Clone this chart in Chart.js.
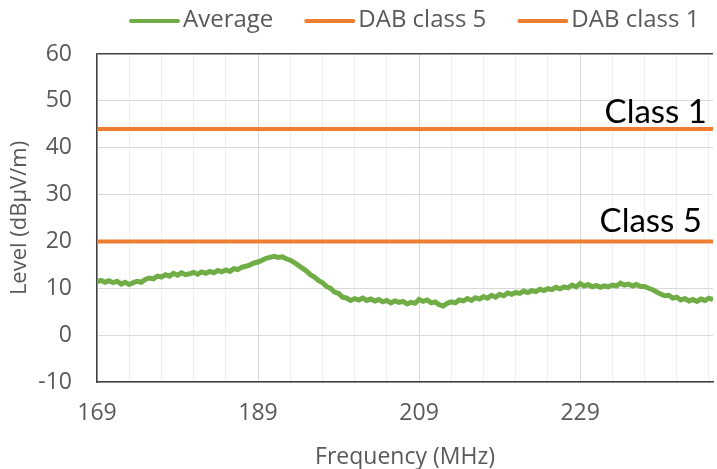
<!DOCTYPE html>
<html>
<head>
<meta charset="utf-8">
<script src="https://cdn.jsdelivr.net/npm/chart.js@4.4.0/dist/chart.umd.min.js"></script>
<style>
  html, body { margin: 0; padding: 0; background: #fff; width: 717px; height: 469px; overflow: hidden; }
  #wrap { position: relative; width: 717px; height: 469px; }
</style>
</head>
<body>
<div id="wrap"><canvas id="levelChart" width="717" height="469"></canvas></div>
<script>
const freqMHz = [
  169, 169.5, 170, 170.5, 171, 171.5, 172, 172.5, 173, 173.5,
  174, 174.5, 175, 175.5, 176, 176.5, 177, 177.5, 178, 178.5,
  179, 179.5, 180, 180.5, 181, 181.5, 182, 182.5, 183, 183.5,
  184, 184.5, 185, 185.5, 186, 186.5, 187, 187.5, 188, 188.5,
  189, 189.5, 190, 190.5, 191, 191.5, 192, 192.5, 193, 193.5,
  194, 194.5, 195, 195.5, 196, 196.5, 197, 197.5, 198, 198.5,
  199, 199.5, 200, 200.5, 201, 201.5, 202, 202.5, 203, 203.5,
  204, 204.5, 205, 205.5, 206, 206.5, 207, 207.5, 208, 208.5,
  209, 209.5, 210, 210.5, 211, 211.5, 212, 212.5, 213, 213.5,
  214, 214.5, 215, 215.5, 216, 216.5, 217, 217.5, 218, 218.5,
  219, 219.5, 220, 220.5, 221, 221.5, 222, 222.5, 223, 223.5,
  224, 224.5, 225, 225.5, 226, 226.5, 227, 227.5, 228, 228.5,
  229, 229.5, 230, 230.5, 231, 231.5, 232, 232.5, 233, 233.5,
  234, 234.5, 235, 235.5, 236, 236.5, 237, 237.5, 238, 238.5,
  239, 239.5, 240, 240.5, 241, 241.5, 242, 242.5, 243, 243.5,
  244, 244.5, 245, 245.5
];
const averageLevel = [
  11.4, 11.7, 11.3, 11.6, 11.2, 11.5, 10.9, 11.3, 10.8, 11.2,
  11.5, 11.3, 11.9, 12.2, 12.0, 12.6, 12.4, 12.9, 12.6, 13.2,
  12.8, 13.3, 12.9, 13.1, 13.4, 13.0, 13.5, 13.2, 13.6, 13.3,
  13.8, 13.5, 13.9, 13.6, 14.2, 14.0, 14.5, 14.7, 15.0, 15.4,
  15.6, 16.0, 16.4, 16.6, 16.8, 16.6, 16.7, 16.3, 16.0, 15.5,
  14.9, 14.3, 13.7, 12.9, 12.4, 11.7, 11.2, 10.4, 10.0, 9.2,
  8.9, 8.1, 7.9, 7.4, 7.8, 7.5, 7.9, 7.4, 7.7, 7.3,
  7.6, 7.1, 7.4, 6.9, 7.3, 7.0, 7.2, 6.7, 7.0, 6.8,
  7.6, 7.2, 7.5, 6.9, 7.1, 6.5, 6.2, 6.8, 7.1, 6.9,
  7.5, 7.3, 7.8, 7.4, 8.0, 7.7, 8.2, 7.9, 8.5, 8.1,
  8.7, 8.4, 9.0, 8.7, 9.1, 8.9, 9.4, 9.1, 9.5, 9.3,
  9.8, 9.5, 9.9, 9.7, 10.2, 9.9, 10.3, 10.1, 10.7, 10.3,
  11.0, 10.5, 10.8, 10.3, 10.6, 10.2, 10.5, 10.3, 10.7, 10.5,
  11.1, 10.7, 10.9, 10.5, 10.8, 10.4, 10.4, 10.0, 9.7, 9.2,
  8.8, 8.4, 8.5, 7.9, 8.1, 7.5, 7.8, 7.3, 7.6, 7.2,
  7.7, 7.4, 7.9, 7.6
];

// Grenzwerte DAB
const limitFreq = [169, 245.5];
const class5Level = [20, 20];
const class1Level = [44, 44];
const seriesNames = ['Average', 'DAB class 5', 'DAB class 1'];
const limitLabels = ['Class 5', 'Class 1'];

// Achsen: Gitter alle 4 MHz, Beschriftung alle 20 MHz
const xGridTicks = [169, 173, 177, 181, 185, 189, 193, 197, 201, 205, 209, 213, 217, 221, 225, 229, 233, 237, 241, 245];
const xLabelTicks = [169, 189, 209, 229];
const xMin = 169, xMax = 245.5;
const yMin = -10, yMax = 60, yStep = 10;

const textGray = '#595959';
const axisDark = '#404040';
const green = '#70ad47';
const orange = '#ed7d31';

Chart.defaults.font.family = "'Open Sans', sans-serif";
Chart.defaults.color = textGray;

function toPoints(xs, ys) {
    return xs.map((x, i) => ({ x: x, y: ys[i] }));
}

// eigene Legende oben (Linie + Text)
const topLegend = {
    id: 'topLegend',
    afterDraw(chart) {
        const c = chart.ctx;
        c.save();
        c.font = "24px 'Open Sans', sans-serif";
        c.textBaseline = 'middle';
        c.fillStyle = textGray;
        let x = 131;
        const y = 20;
        chart.data.datasets.forEach(ds => {
            c.strokeStyle = ds.borderColor;
            c.lineWidth = 4;
            c.lineCap = 'round';
            c.beginPath();
            c.moveTo(x, y + 1);
            c.lineTo(x + 47, y + 1);
            c.stroke();
            x += 52;
            c.fillText(ds.label, x, y);
            x += c.measureText(ds.label).width + 33;
        });
        c.restore();
    }
};

// Beschriftung "Class 5" / "Class 1" über den Grenzlinien
const limitText = {
    id: 'limitText',
    afterDatasetsDraw(chart) {
        const c = chart.ctx;
        const xs = chart.scales.x, ys = chart.scales.y;
        c.save();
        c.font = "33px Lato, 'Open Sans', sans-serif";
        c.fillStyle = '#000';
        c.textAlign = 'right';
        c.textBaseline = 'alphabetic';
        c.fillText(limitLabels[0], xs.getPixelForValue(limitFreq[1]) - 11, ys.getPixelForValue(class5Level[1]) - 9);
        c.fillText(limitLabels[1], xs.getPixelForValue(limitFreq[1]) - 6, ys.getPixelForValue(class1Level[1]) - 6);
        c.restore();
    }
};

new Chart(document.getElementById('levelChart'), {
    type: 'line',
    data: {
        datasets: [
            {
                label: seriesNames[0],
                data: toPoints(freqMHz, averageLevel),
                borderColor: green,
                backgroundColor: green,
                borderWidth: 5,
                pointRadius: 0,
                tension: 0
            },
            {
                label: seriesNames[1],
                data: toPoints(limitFreq, class5Level),
                borderColor: orange,
                backgroundColor: orange,
                borderWidth: 4,
                borderCapStyle: 'round',
                pointRadius: 0
            },
            {
                label: seriesNames[2],
                data: toPoints(limitFreq, class1Level),
                borderColor: orange,
                backgroundColor: orange,
                borderWidth: 4,
                borderCapStyle: 'round',
                pointRadius: 0
            }
        ]
    },
    options: {
        responsive: false,
        animation: false,
        devicePixelRatio: 1,
        layout: { padding: { top: 54, right: 4, bottom: 0, left: 0 } },
        plugins: {
            legend: { display: false },
            tooltip: { enabled: false }
        },
        scales: {
            x: {
                type: 'linear',
                min: xMin,
                max: xMax,
                afterBuildTicks: s => { s.ticks = xGridTicks.map(v => ({ value: v })); },
                afterFit: s => {
                    s.height = 87;
                    s.paddingLeft = 0;
                    s.paddingRight = 0;
                },
                ticks: {
                    autoSkip: false,
                    maxRotation: 0,
                    padding: 18,
                    color: textGray,
                    font: { size: 23 },
                    callback: v => (xLabelTicks.includes(v) ? String(v) : '')
                },
                grid: {
                    drawTicks: false,
                    color: ctx => (xLabelTicks.includes(ctx.tick.value) ? '#d9d9d9' : '#efefef')
                },
                border: { color: axisDark, width: 1.5 },
                title: {
                    display: true,
                    text: 'Frequency (MHz)',
                    color: textGray,
                    font: { size: 23, lineHeight: 1 },
                    padding: { top: 0, bottom: 0 }
                }
            },
            y: {
                min: yMin,
                max: yMax,
                afterFit: s => { s.width = 97; },
                ticks: {
                    stepSize: yStep,
                    padding: 25,
                    color: textGray,
                    font: { size: 23 }
                },
                grid: {
                    drawTicks: false,
                    color: ctx => (ctx.tick.value === yMax ? axisDark : '#d9d9d9'),
                    lineWidth: ctx => (ctx.tick.value === yMax ? 1.5 : 1)
                },
                border: { color: axisDark, width: 1.5 },
                title: {
                    display: true,
                    text: 'Level (dBμV/m)',
                    color: textGray,
                    font: { size: 22, lineHeight: 1 },
                    padding: { top: 9, bottom: 0 }
                }
            }
        }
    },
    plugins: [topLegend, limitText]
});
</script>
</body>
</html>
